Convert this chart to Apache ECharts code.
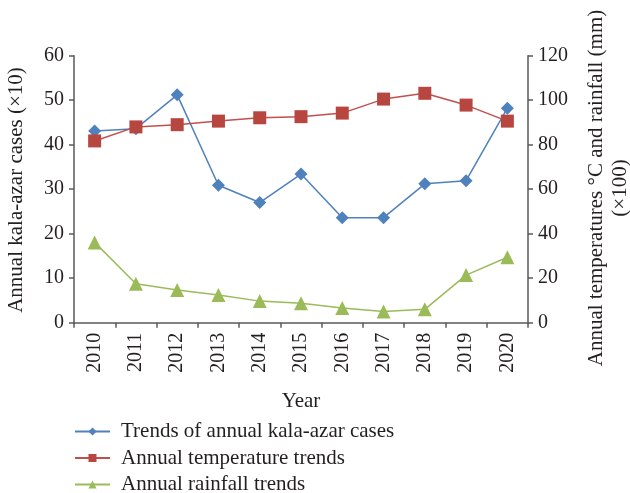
<!DOCTYPE html>
<html><head><meta charset="utf-8">
<script src="https://cdn.jsdelivr.net/npm/echarts@6/dist/echarts.min.js"></script>
<style>html,body{margin:0;padding:0;background:#fff}#c{width:630px;height:493px}</style>
</head><body><div id="c"></div>
<script>
const years = ['2010','2011','2012','2013','2014','2015','2016','2017','2018','2019','2020'];
const kalaAzarCases = [43.1, 43.6, 51.2, 30.9, 27.0, 33.4, 23.6, 23.6, 31.2, 31.9, 48.2];
const temperature = [81.7, 88.0, 89.0, 90.6, 92.1, 92.6, 94.2, 100.5, 103.1, 97.8, 90.6];
const rainfall = [36.1, 17.5, 14.7, 12.4, 9.7, 8.7, 6.6, 5.0, 6.0, 21.4, 29.4];
const leftTicks = {min: 0, max: 60, interval: 10};
const rightTicks = {min: 0, max: 120, interval: 20};
const seriesNames = ['Trends of annual kala-azar cases', 'Annual temperature trends', 'Annual rainfall trends'];
const leftTitle = 'Annual kala-azar cases (×10)';
const rightTitle = 'Annual temperatures °C and rainfall (mm)\n(×100)';

const FONT = '"Liberation Serif", "DejaVu Serif", serif';
const TXT = '#231f20';
const AX = '#595959';
const chart = echarts.init(document.getElementById('c'));
chart.setOption({
  animation: false,
  textStyle: {fontFamily: FONT},
  grid: {left: 74, right: 102, top: 55.7, bottom: 170.3, containLabel: false},
  xAxis: {
    type: 'category', data: years, boundaryGap: true,
    name: 'Year', nameLocation: 'middle', nameGap: 68,
    nameTextStyle: {fontFamily: FONT, fontSize: 21, color: TXT},
    axisLine: {lineStyle: {color: AX, width: 1.5}},
    axisTick: {show: true, length: 5, inside: false, lineStyle: {color: AX, width: 1.5}},
    axisLabel: {rotate: 90, fontFamily: FONT, fontSize: 20, color: TXT, margin: 10, interval: 0}
  },
  yAxis: [{
    type: 'value', position: 'left', min: leftTicks.min, max: leftTicks.max, interval: leftTicks.interval,
    splitLine: {show: false},
    axisLine: {show: true, lineStyle: {color: AX, width: 1.5}},
    axisTick: {show: true, length: 5, lineStyle: {color: AX, width: 1.5}},
    axisLabel: {fontFamily: FONT, fontSize: 20, color: TXT, margin: 10}
  }, {
    type: 'value', position: 'right', min: rightTicks.min, max: rightTicks.max, interval: rightTicks.interval,
    splitLine: {show: false},
    axisLine: {show: true, lineStyle: {color: AX, width: 1.5}},
    axisTick: {show: true, length: 5, lineStyle: {color: AX, width: 1.5}},
    axisLabel: {fontFamily: FONT, fontSize: 20, color: TXT, margin: 10}
  }],
  legend: {
    orient: 'vertical', left: 74, top: 421, height: 120, padding: 0, itemWidth: 35, itemHeight: 10, itemGap: 5.5,
    textStyle: {fontFamily: FONT, fontSize: 21, lineHeight: 20, color: TXT, padding: [0, 0, 0, 6]},
    data: seriesNames
  },
  series: [{
    name: seriesNames[0], type: 'line', yAxisIndex: 0, data: kalaAzarCases,
    symbol: 'diamond', symbolSize: 13, color: '#4f81bd',
    lineStyle: {width: 1.5, color: '#4f81bd'}, itemStyle: {color: '#4f81bd'}
  }, {
    name: seriesNames[1], type: 'line', yAxisIndex: 1, data: temperature,
    symbol: 'rect', symbolSize: 13, color: '#c0504d',
    lineStyle: {width: 1.5, color: '#c0504d'}, itemStyle: {color: '#b84640'}
  }, {
    name: seriesNames[2], type: 'line', yAxisIndex: 1, data: rainfall,
    symbol: 'triangle', symbolSize: 14, color: '#9bbb59',
    lineStyle: {width: 1.5, color: '#9bbb59'}, itemStyle: {color: '#9bbb59'}
  }],
  graphic: [{
    type: 'text', x: 16.5, y: 190, rotation: Math.PI / 2,
    style: {text: leftTitle, font: '21px ' + FONT, fill: TXT, align: 'center', verticalAlign: 'middle'}
  }, {
    type: 'text', x: 608, y: 188, rotation: Math.PI / 2,
    style: {text: rightTitle, font: '21px ' + FONT, fill: TXT, align: 'center', verticalAlign: 'middle', lineHeight: 24}
  }]
});
</script></body></html>
